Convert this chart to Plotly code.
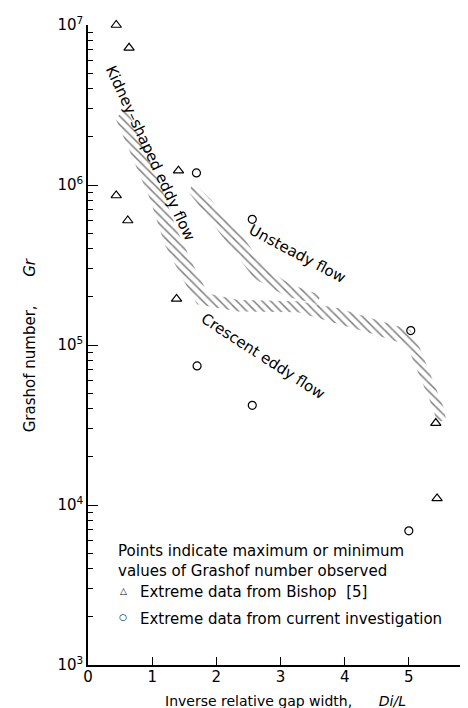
import plotly.graph_objects as go

# ---- data ----
tri_x = [0.44, 0.64, 0.44, 0.62, 1.41, 1.38, 5.42, 5.44]
tri_gr = [1.0e7, 7.2e6, 8.6e5, 6.0e5, 1.23e6, 1.94e5, 3.25e4, 1.1e4]

circ_x = [1.69, 2.56, 1.70, 2.56, 5.03, 5.00]
circ_gr = [1.19e6, 6.1e5, 7.4e4, 4.2e4, 1.23e5, 6.9e3]

# hatched band A (kidney-shaped / crescent boundary, continuing to the right end)
bandA_up_x = [0.59, 0.86, 1.12, 1.37, 1.65, 1.87, 2.34, 3.27, 3.90, 4.52, 5.02, 5.17, 5.33, 5.55, 5.58]
bandA_up_gr = [3.03e6, 1.83e6, 1.03e6, 5.4e5, 3.1e5, 2.1e5, 1.91e5, 1.88e5, 1.70e5, 1.43e5, 1.24e5, 9.6e4, 6.7e4, 4.0e4, 3.4e4]
bandA_lo_x = [0.43, 0.69, 0.96, 1.19, 1.45, 1.70, 2.34, 3.27, 3.82, 4.44, 4.88, 5.03, 5.18, 5.39, 5.43]
bandA_lo_gr = [2.6e6, 1.47e6, 8.3e5, 4.3e5, 2.7e5, 1.8e5, 1.62e5, 1.6e5, 1.38e5, 1.17e5, 1.03e5, 8.7e4, 6.3e4, 3.9e4, 3.3e4]

# hatched band B (unsteady flow boundary)
bandB_up_x = [1.64, 1.92, 2.18, 2.46, 2.73, 3.15, 3.62]
bandB_up_gr = [1.03e6, 8.1e5, 6.0e5, 4.5e5, 3.1e5, 2.4e5, 2.05e5]
bandB_lo_x = [1.57, 1.82, 2.05, 2.30, 2.59, 3.10, 3.58]
bandB_lo_gr = [9.0e5, 6.7e5, 5.0e5, 3.7e5, 2.6e5, 2.0e5, 1.8e5]

x_ticks = [0, 1, 2, 3, 4, 5, 6]
y_decades = [3, 4, 5, 6, 7]
y_ticktext = ["10<sup>3</sup>", "10<sup>4</sup>", "10<sup>5</sup>", "10<sup>6</sup>", "10<sup>7</sup>"]

legend_lines = ["Points indicate maximum or minimum",
                "values of Grashof number observed"]
legend_tri = "Extreme data from Bishop  [5]"
legend_circ = "Extreme data from current investigation"

FONT = "DejaVu Sans"

fig = go.Figure()

hatch = dict(shape="\\", size=6, solidity=0.25, fgcolor="black", bgcolor="rgba(0,0,0,0)")
for ux, uy, lx, ly in [(bandA_up_x, bandA_up_gr, bandA_lo_x, bandA_lo_gr),
                       (bandB_up_x, bandB_up_gr, bandB_lo_x, bandB_lo_gr)]:
    fig.add_trace(go.Scatter(
        x=ux + lx[::-1], y=uy + ly[::-1], mode="lines", fill="toself",
        fillcolor="rgba(0,0,0,0)", fillpattern=hatch,
        line=dict(width=0, color="rgba(0,0,0,0)"), hoverinfo="skip", showlegend=False))

fig.add_trace(go.Scatter(x=tri_x, y=tri_gr, mode="markers", cliponaxis=False,
                         marker=dict(symbol="triangle-up-open", size=9, color="black", line=dict(width=1.2)),
                         showlegend=False))
fig.add_trace(go.Scatter(x=circ_x, y=circ_gr, mode="markers", cliponaxis=False,
                         marker=dict(symbol="circle-open", size=8, color="black", line=dict(width=1.2)),
                         showlegend=False))

minor_vals = [k * 10 ** d for d in y_decades[:-1] for k in range(2, 10)]

fig.update_xaxes(range=[0, 6], showline=True, linecolor="black", linewidth=1.5,
                 ticks="inside", ticklen=8, tickwidth=1, tickcolor="black",
                 tickmode="array", tickvals=x_ticks, ticktext=[str(v) for v in x_ticks],
                 ticklabelstandoff=-3,
                 showgrid=False, zeroline=False,
                 tickfont=dict(family=FONT, size=15, color="black"))
fig.update_yaxes(type="log", range=[3, 7], showline=True, linecolor="black", linewidth=1.5,
                 ticks="inside", ticklen=10, tickwidth=1, tickcolor="black",
                 tickmode="array", tickvals=[10 ** d for d in y_decades], ticktext=y_ticktext,
                 minor=dict(ticks="inside", ticklen=5, tickcolor="black", tickvals=minor_vals),
                 showgrid=False, zeroline=False,
                 tickfont=dict(family=FONT, size=15, color="black"))

ann = []
tf = dict(family=FONT, size=15, color="black")
lab = dict(family=FONT, size=15, color="black")
ann.append(dict(x=0.97, y=6.2, xref="x", yref="y", text="Kidney–shaped eddy flow",
                textangle=65, showarrow=False, font=lab))
ann.append(dict(x=3.27, y=5.57, xref="x", yref="y", text="Unsteady flow",
                textangle=28, showarrow=False, font=lab))
ann.append(dict(x=2.72, y=4.93, xref="x", yref="y", text="Crescent eddy flow",
                textangle=33, showarrow=False, font=lab))

# legend block
ann.append(dict(x=0.44, y=3.71, xref="x", yref="y", text=legend_lines[0], xanchor="left",
                showarrow=False, font=tf))
ann.append(dict(x=0.44, y=3.585, xref="x", yref="y", text=legend_lines[1], xanchor="left",
                showarrow=False, font=tf))
ann.append(dict(x=0.55, y=3.465, xref="x", yref="y", text="△", showarrow=False,
                font=dict(family=FONT, size=9, color="black")))
ann.append(dict(x=0.78, y=3.455, xref="x", yref="y", text=legend_tri, xanchor="left",
                showarrow=False, font=tf))
ann.append(dict(x=0.55, y=3.30, xref="x", yref="y", text="○", showarrow=False,
                font=dict(family=FONT, size=9, color="black")))
ann.append(dict(x=0.78, y=3.285, xref="x", yref="y", text=legend_circ, xanchor="left",
                showarrow=False, font=tf))

# axis titles
ann.append(dict(x=0.195, y=-0.056, xref="paper", yref="paper", xanchor="left", yanchor="middle",
                text="Inverse relative gap width,&nbsp;&nbsp;&nbsp;&nbsp;&nbsp;&nbsp;<i>Di/L</i>",
                showarrow=False, font=dict(family=FONT, size=14, color="black")))
ann.append(dict(x=-0.15, y=0.5, xref="paper", yref="paper", xanchor="center", yanchor="middle",
                text="Grashof number,&nbsp;&nbsp;&nbsp;&nbsp;&nbsp;&nbsp;<i>Gr</i>", textangle=-90,
                showarrow=False, font=tf))

fig.update_layout(width=468, height=708, margin=dict(l=80, r=3, t=17, b=51),
                  plot_bgcolor="white", paper_bgcolor="white", annotations=ann,
                  showlegend=False)

fig.write_html("out.html")
